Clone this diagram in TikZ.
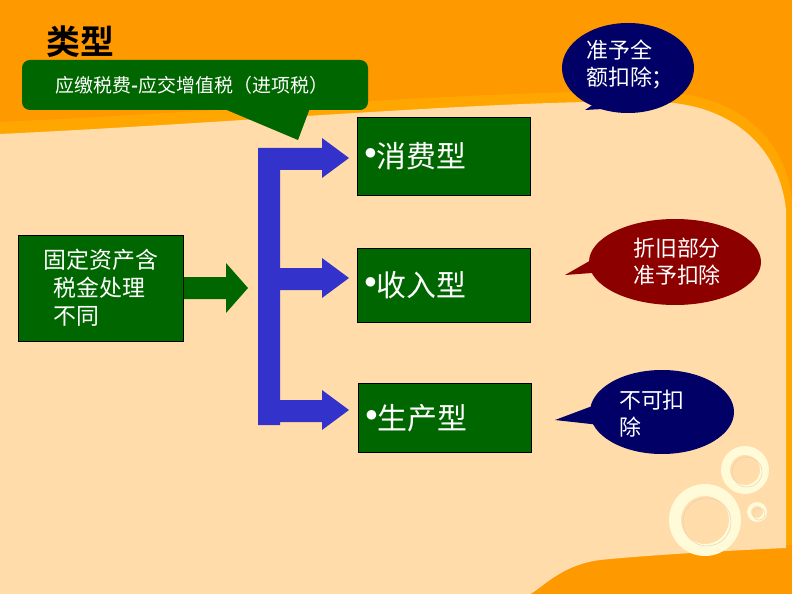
\documentclass[tikz,border=0pt]{standalone}
\usepackage{fontspec}
\setmainfont{Noto Sans CJK SC}[BoldFont={* Bold}]
\usetikzlibrary{calc}
\usetikzlibrary{shapes.geometric}
\definecolor{bgorange}{RGB}{255,153,0}
\definecolor{bgcream}{RGB}{255,220,170}
\definecolor{boxgreen}{RGB}{0,102,0}
\definecolor{barblue}{RGB}{51,51,204}
\definecolor{navy}{RGB}{0,0,102}
\definecolor{darkred}{RGB}{140,0,0}
\definecolor{ringcol}{RGB}{255,250,215}
\newcommand{\bul}{\raisebox{0.25em}{$\bullet$}}
\tikzset{
 typebox/.style={draw=black, fill=boxgreen, text=white, minimum width=174, minimum height=78, text width=160, align=left, font=\fontsize{30}{32}\selectfont},
 bubble/.style={ellipse, text=white, align=left, font=\fontsize{22}{27}\selectfont, inner sep=0},
}
\begin{document}
\begin{tikzpicture}[x=1bp,y=-1bp]
\useasboundingbox (0,0) rectangle (792,594);
% background
\fill[bgorange] (0,0) rectangle (792,594);
\fill[orange!70!yellow] (0,122) .. controls (250,110) and (520,88) .. (660,92) .. controls (740,95) and (786,140) .. (792,200) -- (792,545) -- (0,594) -- cycle;
\fill[bgcream] (0,134) .. controls (250,122) and (520,98) .. (660,102) .. controls (735,105) and (780,150) .. (786,210)
 -- (786,548) .. controls (700,552) and (640,556) .. (600,560) .. controls (560,565) and (540,590) .. (530,594) -- (0,594) -- cycle;
% rings
\foreach \cx/\cy/\ro/\ri in {705/520/36/24, 745/470/24/15, 757/512/10/6}{
 \fill[ringcol, even odd rule] (\cx,\cy) circle (\ro) (\cx,\cy) circle (\ri);
 \draw[brown!40, thin] (\cx+2,\cy+2) circle (\ri);
}
% title
\node[font=\fontsize{34}{36}\selectfont\bfseries] (title) at (80,42) {类型};
% callout
\fill[boxgreen, rounded corners=8] (22,60) rectangle (368,110);
\fill[boxgreen] (222,108) -- (298,140) -- (310,108) -- cycle;
\node[text=white, font=\fontsize{19}{22}\selectfont] (note) at (192,85) {应缴税费\textbf{-}应交增值税（进项税）};
% boxes
\node[typebox] (consume) at (444,156) {\bul 消费型};
\node[typebox, minimum height=74] (income) at (444,285) {\bul 收入型};
\node[typebox, minimum height=69] (produce) at (445,418) {\bul 生产型};
\node[draw=black, fill=boxgreen, text=white, minimum width=166, minimum height=107, align=left, font=\fontsize{23}{28}\selectfont] (fixed) at (101,288) {固定资产含\\\ \ 税金处理\\\ \ 不同};
% arrow into bracket
\fill[boxgreen] (fixed.east|-0,277) -- (226,277) -- (226,263) -- (248,288) -- (226,313) -- (226,299) -- (fixed.east|-0,299) -- cycle;
% bracket
\fill[barblue] (258,425) -- (258,148) -- (322,148) -- (322,138) -- (349,158) -- (322,178) -- (322,170) -- (280,170)
 -- (280,268) -- (322,268) -- (322,258) -- (349,278) -- (322,298) -- (322,290) -- (280,290)
 -- (280,400) -- (322,400) -- (322,390) -- (349,410) -- (322,430) -- (322,422) -- (280,422) -- (280,425) -- cycle;
% bubbles
\fill[navy] (628,68) ellipse (66 and 45);
\fill[navy] (600,100) -- (585,110) -- (620,108) -- cycle;
\node[bubble] (full) at (630,64) {准予全\\额扣除；};
\fill[darkred] (675,262) ellipse (86 and 43);
\fill[darkred] (600,255) -- (565,275) -- (605,272) -- cycle;
\node[bubble] (depr) at (677,262) {折旧部分\\准予扣除};
\fill[navy] (662,412) ellipse (72 and 42);
\fill[navy] (595,405) -- (555,420) -- (600,425) -- cycle;
\node[bubble] (none) at (652,414) {不可扣\\除};
\end{tikzpicture}
\end{document}
